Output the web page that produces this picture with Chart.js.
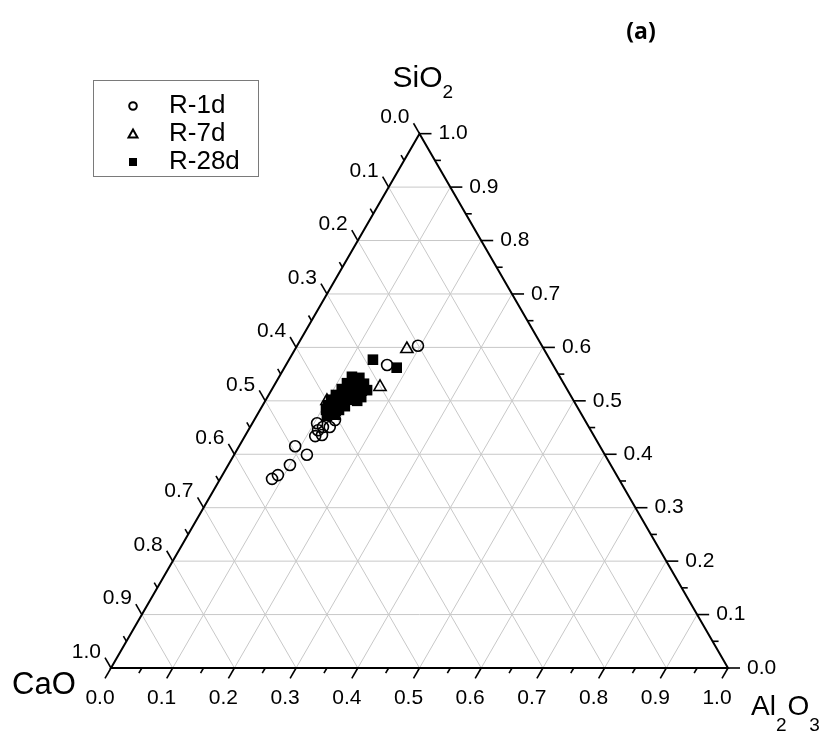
<!DOCTYPE html>
<html>
<head>
<meta charset="utf-8">
<script src="https://cdn.jsdelivr.net/npm/chart.js@4.4.1/dist/chart.umd.min.js"></script>
<style>
  html, body { margin: 0; padding: 0; background: #fff; }
  canvas { display: block; }
</style>
</head>
<body>
<canvas id="ternary" width="828" height="737"></canvas>
<script>
// compositions, as [CaO, SiO2, Al2O3] fractions
const r1d = [
  [0.201, 0.603, 0.196], [0.269, 0.567, 0.164], [0.437, 0.458, 0.105],
  [0.442, 0.445, 0.113], [0.452, 0.434, 0.114], [0.440, 0.436, 0.124],
  [0.420, 0.451, 0.129], [0.431, 0.451, 0.118], [0.405, 0.464, 0.131],
  [0.494, 0.415, 0.091], [0.483, 0.399, 0.118], [0.520, 0.380, 0.100],
  [0.549, 0.361, 0.090], [0.562, 0.354, 0.084],
];
const r7d = [
  [0.222, 0.597, 0.181], [0.301, 0.526, 0.173], [0.400, 0.500, 0.100],
  [0.373, 0.511, 0.116], [0.338, 0.517, 0.145], [0.399, 0.479, 0.122],
];
const r28d = [
  [0.337, 0.545, 0.118], [0.326, 0.543, 0.131], [0.324, 0.532, 0.144],
  [0.325, 0.520, 0.155], [0.338, 0.518, 0.144], [0.342, 0.528, 0.130],
  [0.351, 0.533, 0.116], [0.365, 0.522, 0.113], [0.358, 0.515, 0.127],
  [0.350, 0.509, 0.141], [0.341, 0.507, 0.152], [0.351, 0.500, 0.149],
  [0.363, 0.502, 0.135], [0.372, 0.507, 0.121], [0.380, 0.511, 0.109],
  [0.392, 0.502, 0.106], [0.402, 0.492, 0.106], [0.388, 0.494, 0.118],
  [0.377, 0.494, 0.129], [0.389, 0.483, 0.128], [0.401, 0.481, 0.118],
  [0.410, 0.483, 0.107], [0.400, 0.474, 0.126], [0.414, 0.472, 0.114],
  [0.376, 0.490, 0.134], [0.287, 0.577, 0.136], [0.256, 0.562, 0.182],
];

const seriesNames = ["R-1d", "R-7d", "R-28d"];
const tickValues = [0, 0.1, 0.2, 0.3, 0.4, 0.5, 0.6, 0.7, 0.8, 0.9, 1.0];
const tickLabels = ["0.0", "0.1", "0.2", "0.3", "0.4", "0.5", "0.6", "0.7", "0.8", "0.9", "1.0"];
const minorTicks = [0.05, 0.15, 0.25, 0.35, 0.45, 0.55, 0.65, 0.75, 0.85, 0.95];

const H = Math.sqrt(3) / 2;
const FONT = '"Liberation Sans", Arial, sans-serif';

// ternary -> cartesian (unit side, CaO corner at origin)
function project(rows) {
  return rows.map(([c, s, a]) => ({ x: a + s / 2, y: s * H }));
}

const ternaryFrame = {
  id: "ternaryFrame",
  beforeDatasetsDraw(chart) {
    const { ctx } = chart;
    const xs = chart.scales.x;
    const ys = chart.scales.y;
    const P = (s, a) => [xs.getPixelForValue(a + s / 2), ys.getPixelForValue(s * H)];
    const line = (p, q) => {
      ctx.beginPath();
      ctx.moveTo(p[0], p[1]);
      ctx.lineTo(q[0], q[1]);
      ctx.stroke();
    };

    ctx.save();
    // grid
    ctx.strokeStyle = "#c8c8c8";
    ctx.lineWidth = 1;
    tickValues.slice(1, -1).forEach((t) => {
      line(P(t, 0), P(t, 1 - t));
      line(P(0, t), P(1 - t, t));
      line(P(0, 1 - t), P(1 - t, 0));
    });

    // frame
    ctx.strokeStyle = "#000";
    ctx.lineWidth = 2;
    const cao = P(0, 0), al = P(0, 1), si = P(1, 0);
    ctx.beginPath();
    ctx.moveTo(cao[0], cao[1]);
    ctx.lineTo(al[0], al[1]);
    ctx.lineTo(si[0], si[1]);
    ctx.closePath();
    ctx.stroke();

    // ticks
    ctx.lineWidth = 1.6;
    const tick = (p, dx, dy, len) => line(p, [p[0] + dx * len, p[1] + dy * len]);
    const axes = [
      { at: (v) => P(0, v), dx: -0.5, dy: H },      // Al2O3, bottom
      { at: (v) => P(v, 1 - v), dx: 1, dy: 0 },     // SiO2, right
      { at: (v) => P(1 - v, 0), dx: -0.5, dy: -H }, // CaO, left
    ];
    axes.forEach((ax) => {
      tickValues.forEach((v) => tick(ax.at(v), ax.dx, ax.dy, 12));
      minorTicks.forEach((v) => tick(ax.at(v), ax.dx, ax.dy, 6));
    });

    // tick labels
    ctx.fillStyle = "#000";
    ctx.font = `21px ${FONT}`;
    ctx.textBaseline = "middle";
    tickValues.forEach((v, i) => {
      let p = P(0, v);
      ctx.textAlign = "center";
      ctx.fillText(tickLabels[i], p[0] - 11, p[1] + 30);
      p = P(v, 1 - v);
      ctx.textAlign = "left";
      ctx.fillText(tickLabels[i], p[0] + 19, p[1]);
      p = P(1 - v, 0);
      ctx.textAlign = "right";
      ctx.fillText(tickLabels[i], p[0] - 10, p[1] - 16);
    });

    // axis titles with subscripts
    const title = (parts, x, y, size, drop) => {
      ctx.textAlign = "left";
      ctx.textBaseline = "alphabetic";
      let cx = x;
      parts.forEach(([txt, sub]) => {
        ctx.font = sub ? `19px ${FONT}` : `${size}px ${FONT}`;
        ctx.fillText(txt, cx, sub ? y + drop : y);
        cx += ctx.measureText(txt).width + (sub ? 1 : 0);
      });
    };
    title([["SiO", false], ["2", true]], si[0] - 27, si[1] - 47, 30, 11);
    title([["CaO", false]], 12, 694, 31, 0);
    title([["Al", false], ["2", true], ["O", false], ["3", true]], 751, 715, 28, 16);

    ctx.font = `bold 23px "Open Sans", ${FONT}`;
    ctx.textAlign = "center";
    ctx.textBaseline = "middle";
    ctx.fillText("(a)", 641, 32);
    ctx.restore();
  },
  afterDraw(chart) {
    const { ctx } = chart;
    ctx.save();
    ctx.strokeStyle = "#7a7a7a";
    ctx.lineWidth = 1;
    ctx.strokeRect(93.5, 80.5, 165, 96);
    const rows = [106, 134, 162];
    ctx.strokeStyle = "#000";
    ctx.fillStyle = "#000";
    ctx.lineWidth = 2;
    // circle
    ctx.beginPath();
    ctx.arc(133, rows[0], 3.8, 0, Math.PI * 2);
    ctx.stroke();
    // triangle
    ctx.beginPath();
    ctx.moveTo(133, rows[1] - 4.5);
    ctx.lineTo(137.5, rows[1] + 3.5);
    ctx.lineTo(128.5, rows[1] + 3.5);
    ctx.closePath();
    ctx.stroke();
    // square
    ctx.fillRect(129, rows[2] - 4, 8, 8);

    ctx.font = `26px ${FONT}`;
    ctx.textAlign = "left";
    ctx.textBaseline = "middle";
    seriesNames.forEach((n, i) => ctx.fillText(n, 169, rows[i]));
    ctx.restore();
  },
};

const side = 617;
new Chart(document.getElementById("ternary"), {
  type: "scatter",
  data: {
    datasets: [
      {
        label: seriesNames[2],
        data: project(r28d),
        pointStyle: "rect",
        pointRadius: 7.5,
        borderWidth: 0,
        backgroundColor: "#000",
        borderColor: "#000",
        order: 0,
      },
      {
        label: seriesNames[1],
        data: project(r7d),
        pointStyle: "triangle",
        pointRadius: 7,
        borderWidth: 1.6,
        backgroundColor: "rgba(0,0,0,0)",
        borderColor: "#000",
        order: 1,
      },
      {
        label: seriesNames[0],
        data: project(r1d),
        pointStyle: "circle",
        pointRadius: 5.5,
        borderWidth: 1.6,
        backgroundColor: "rgba(0,0,0,0)",
        borderColor: "#000",
        order: 2,
      },
    ],
  },
  options: {
    responsive: false,
    animation: false,
    devicePixelRatio: 1,
    layout: { padding: 0, autoPadding: false },
    plugins: { legend: { display: false }, tooltip: { enabled: false } },
    scales: {
      x: { type: "linear", display: false, min: -111 / side, max: (828 - 111) / side },
      y: { type: "linear", display: false, min: (668 - 737) / side, max: 668 / side },
    },
  },
  plugins: [ternaryFrame],
});
</script>
</body>
</html>
